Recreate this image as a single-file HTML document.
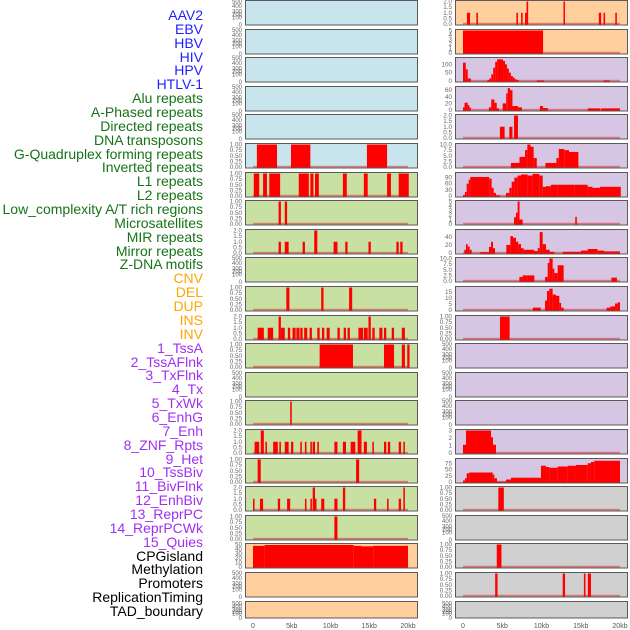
<!DOCTYPE html>
<html><head><meta charset="utf-8"><style>
html,body{margin:0;padding:0;background:#fff;width:630px;height:630px;overflow:hidden}
#labels{position:absolute;left:0;top:0;width:203px;height:630px}
.lb{position:absolute;right:0;font:14px "Liberation Sans",sans-serif;white-space:nowrap;line-height:14px}
svg{position:absolute;left:0;top:0}
</style></head><body>
<div id="labels"></div>
<svg id="chart" width="630" height="630"></svg>
<script>
const labelNames=["AAV2","EBV","HBV","HIV","HPV","HTLV-1","Alu repeats","A-Phased repeats","Directed repeats","DNA transposons","G-Quadruplex forming repeats","Inverted repeats","L1 repeats","L2 repeats","Low_complexity A/T rich regions","Microsatellites","MIR repeats","Mirror repeats","Z-DNA motifs","CNV","DEL","DUP","INS","INV","1_TssA","2_TssAFlnk","3_TxFlnk","4_Tx","5_TxWk","6_EnhG","7_Enh","8_ZNF_Rpts","9_Het","10_TssBiv","11_BivFlnk","12_EnhBiv","13_ReprPC","14_ReprPCWk","15_Quies","CPGisland","Methylation","Promoters","ReplicationTiming","TAD_boundary"];
const labelGroups=[6,13,5,15,5];
const groupColors=["#1f1fff","#177317","#ffa500","#a030f0","#000000"];
const xTicks=[0,5,10,15,20];
const xTickLabels=["0","5kb","10kb","15kb","20kb"];
// middle column data: [startKb,endKb,value]
const m5=[[0.5,3.1,1],[4.9,7.4,1],[14.7,17.3,1]];
const m6=[[0.1,0.8,1],[1.3,1.8,1],[2.1,3.5,1],[5.9,7.2,1],[7.4,7.8,1],[8.0,8.5,1],[11.6,12.1,1],[14.3,14.8,1],[17.3,17.8,1],[18.8,20.1,1]];
const m7=[[3.3,3.6,1],[4.1,4.4,1]];
const m8=[[3.3,3.6,1],[4.1,4.6,1],[6.4,6.7,1],[7.9,8.3,2],[10.4,10.9,1],[11.9,12.2,1],[14.9,15.2,1],[18.5,18.8,1],[19.0,19.3,1]];
const m10=[[4.3,4.7,1],[8.8,9.1,1],[12.4,12.8,1]];
const m11=[[0.6,1.4,1],[1.9,2.6,1],[3.3,3.6,2],[3.6,4.1,1],[4.5,4.8,1],[5.1,5.5,1],[5.6,6.0,1],[6.1,6.4,1],[6.6,7.0,1],[7.3,7.6,1],[8.3,8.6,1],[8.9,9.2,1],[9.5,9.9,1],[10.9,11.2,1],[11.7,12.0,1],[12.2,12.5,1],[13.6,14.2,1],[14.3,14.8,1],[14.9,15.2,2],[15.4,15.7,1],[16.3,16.7,1],[16.9,17.2,1],[17.9,18.2,1],[19.2,19.6,1]];
const m12=[[8.6,12.9,1],[16.9,18.2,1],[19.2,19.6,1],[19.9,20.2,1]];
const m14=[[4.8,5.0,1]];
const m15=[[0.2,0.8,1],[1.0,1.4,2],[1.6,1.8,1],[2.6,3.2,1],[3.4,3.6,1],[4.1,4.6,1],[4.9,5.2,1],[6.1,6.3,1],[6.7,6.9,1],[7.4,7.6,1],[7.7,8.0,1],[8.3,8.5,1],[10.5,10.9,1],[11.6,12.0,1],[12.6,13.2,1],[13.5,14.0,2],[14.3,14.7,1],[15.4,15.6,1],[16.9,17.2,1],[17.4,17.7,1],[18.8,19.1,1],[19.4,19.6,1]];
const m16=[[0.6,1.0,1],[13.3,13.7,1]];
const m17=[[0,0.2,1],[0.9,1.3,1],[3.2,3.5,1],[4.4,4.8,1],[6.7,6.9,1],[7.4,7.6,1],[7.7,8.0,2],[8.0,8.1,1],[8.8,9.2,1],[10.5,10.9,1],[11.6,11.9,2],[15.6,15.9,1],[17.3,17.5,1],[18.8,19.1,1],[19.4,19.6,2]];
const m18=[[10.5,10.9,1]];
const m19=[[0,1.5,47],[1.5,13,49],[13,14,47],[14,15.5,46],[15.5,20,47]];
// right column data
const r0=[[0.5,0.9,1],[1.7,1.9,1],[6.8,7.0,1],[7.4,7.6,1],[7.9,8.1,1],[8.1,8.3,2],[12.8,12.95,2],[17.3,17.6,1],[17.9,18.1,1],[19.4,19.6,1]];
const r1=[[0,10.2,5]];
const r2=[[0,0.35,110],[0.35,0.6,70],[0.6,1.0,15],[3.1,3.35,5],[3.35,3.6,15],[3.6,3.85,40],[3.85,4.1,80],[4.1,4.35,115],[4.35,5.1,130],[5.1,5.35,120],[5.35,5.6,100],[5.6,5.85,75],[5.85,6.1,50],[6.1,6.35,30],[6.35,6.6,20],[6.6,6.85,10],[6.85,7.1,5],[9.4,10.3,3],[17.9,18.7,3]];
const r3=[[0,0.2,8],[0.2,0.6,22],[0.6,0.8,15],[0.8,1.0,8],[3.3,3.6,8],[3.6,4.0,32],[4.0,4.3,22],[4.3,4.6,5],[5.05,5.5,20],[5.5,5.7,50],[5.7,6.0,66],[6.0,6.3,60],[6.3,7.0,12],[7.0,7.5,8],[9.8,10.2,12],[10.2,10.8,6],[15.9,16.7,5],[16.7,17.5,5],[17.6,20,5]];
const r4=[[4.7,5.3,1],[5.9,6.3,1],[6.5,7.0,2]];
const r5=[[6.1,7.2,1.8],[7.2,7.9,4.5],[7.9,8.2,7.5],[8.2,8.6,10],[8.6,9.0,9],[9.0,9.4,4],[10.5,11.9,1.8],[11.9,12.2,4],[12.2,12.9,8],[12.9,13.5,7.5],[13.5,14.7,6.7]];
const r6=[[0,0.25,5],[0.25,0.47,20],[0.47,0.72,60],[0.72,0.93,80],[0.93,3.35,93],[3.35,3.65,85],[3.65,3.91,40],[3.91,4.2,15],[4.2,4.71,3],[5.48,5.9,15],[5.9,6.2,40],[6.2,6.54,70],[6.54,6.96,90],[6.96,7.39,100],[7.39,8.24,105],[8.24,8.87,100],[8.87,9.72,108],[9.72,10.15,100],[10.15,10.57,45],[10.57,11.2,48],[11.2,12.06,55],[12.06,14.18,55],[14.18,15.88,55],[15.88,16.5,45],[16.5,17.45,40],[17.45,20.1,45]];
const r7=[[6.5,6.75,1.5],[6.75,6.96,2.5],[6.96,7.2,5],[7.2,7.6,1],[14.3,14.5,1.6]];
const r8=[[0.17,0.38,8],[0.38,0.59,22],[0.59,0.85,16],[0.85,1.1,8],[2.2,3.31,2],[3.31,3.57,15],[3.57,3.82,28],[3.82,4.08,12],[5.52,6.03,20],[6.03,6.37,42],[6.37,6.75,38],[6.75,7.05,28],[7.05,7.39,22],[7.39,7.73,12],[7.73,9.09,8],[9.09,9.51,5],[9.51,9.77,12],[9.77,10.15,52],[10.15,10.57,22],[10.57,11.04,8],[11.04,11.64,3],[12.7,15.03,3],[15.03,15.88,6],[15.88,17.15,10],[17.15,18.0,6],[18.0,20.0,4]];
const r9=[[7.18,7.6,1.8],[7.6,8.24,2.5],[8.24,9.09,2.5],[10.45,10.79,1.8],[10.79,11.0,8],[11.0,11.42,10],[11.42,11.64,5.5],[11.64,12.06,3.5],[12.06,12.82,7],[18.9,19.6,1.5]];
const r10=[[8.9,9.9,2],[10.45,10.7,8],[10.7,11.0,16],[11.0,11.42,18],[11.42,11.85,13],[11.85,12.27,12],[12.27,12.5,6],[12.5,12.82,2],[18.3,18.77,2],[18.77,19.37,3],[19.37,19.7,5.5],[19.7,20.0,6.5]];
const r11=[[4.71,5.94,1]];
const r15=[[0,0.38,1.1],[0.38,3.57,3],[3.57,3.82,2.1],[3.82,4.2,1.1]];
const r16=[[0,0.25,6],[0.25,0.47,15],[0.47,0.81,35],[0.81,3.78,38],[3.78,3.99,30],[3.99,4.33,15],[4.33,5.48,1],[5.48,6.11,10],[6.11,9.93,17],[9.93,10.57,65],[10.57,11.0,60],[11.0,12.06,57],[12.06,13.33,62],[13.33,14.39,65],[14.39,15.88,68],[15.88,16.3,75],[16.3,16.73,80],[16.73,20.0,85]];
const r17=[[4.5,5.2,1]];
const r19=[[4.3,4.9,1]];
const r20=[[4.1,4.4,1],[12.7,13.0,1],[15.4,15.6,1],[15.9,16.3,1]];
// tick sets
const T1=[0,0.25,0.5,0.75,1],T1L=["0.00","0.25","0.50","0.75","1.00"];
const T2=[0,0.5,1,1.5,2],T2L=["0.0","0.5","1.0","1.5","2.0"];
const T500=[0,100,200,300,400,500];
const C={blue:"#c8e4ec",green:"#c8e1a2",peach:"#ffd09e",purple:"#d6c6e3",grey:"#d0d0d0"};
const mid=[
 ["blue",null],["blue",null],["blue",null],["blue",null],["blue",null],
 ["blue",m5,1,T1,T1L],["green",m6,1,T1,T1L],["green",m7,1,T1,T1L],["green",m8,2,T2,T2L],["green",null],
 ["green",m10,1,T1,T1L],["green",m11,2,T2,T2L],["green",m12,1,T1,T1L],["green",null],["green",m14,1,T1,T1L],
 ["green",m15,2,T2,T2L],["green",m16,1,T1,T1L],["green",m17,2,T2,T2L],["green",m18,1,T1,T1L],
 ["peach",m19,50,[0,10,20,30,40,50],["0","10","20","30","40","50"]],["peach",null],["peach",null]];
const right=[
 ["peach",r0,2,T2,T2L],["peach",r1,5,[0,1,2,3,4,5],["0","1","2","3","4","5"]],
 ["purple",r2,135,[0,50,100],["0","50","100"]],["purple",r3,68,[0,20,40,60],["0","20","40","60"]],
 ["purple",r4,2,T2,T2L],["purple",r5,10,[0,2.5,5,7.5,10],["0.0","2.5","5.0","7.5","10.0"]],
 ["purple",r6,110,[0,30,60,90],["0","30","60","90"]],["purple",r7,5,[0,1,2,3,4,5],["0","1","2","3","4","5"]],
 ["purple",r8,56,[0,20,40],["0","20","40"]],["purple",r9,10,[0,2.5,5,7.5,10],["0.0","2.5","5.0","7.5","10.0"]],
 ["purple",r10,19,[0,5,10,15],["0","5","10","15"]],["purple",r11,1,T1,T1L],
 ["purple",null],["purple",null],["purple",null],
 ["purple",r15,3,[0,1,2,3],["0","1","2","3"]],["purple",r16,90,[0,25,50,75],["0","25","50","75"]],
 ["grey",r17,1,T1,T1L],["grey",null],["grey",r19,1,T1,T1L],["grey",r20,1,T1,T1L],["grey",null]];

// labels
(function(){
 const box=document.getElementById('labels');let k=0;
 labelGroups.forEach((n,g)=>{for(let i=0;i<n;i++){const d=document.createElement('div');
  
  
  d.className='lb';d.style.color=groupColors[g];d.style.top=(15+k*13.86-7)+'px';d.textContent=labelNames[k];box.appendChild(d);k++;}});
})();
const svg=document.getElementById('chart');const NS='http://www.w3.org/2000/svg';
function el(t,a){const e=document.createElementNS(NS,t);for(const k in a)e.setAttribute(k,a[k]);svg.appendChild(e);return e;}
const emptyFrac=[0,0.3,0.42,0.55,0.78,0.97];
function drawCol(cfg,L,scale,colName){
 const W=172;
 const xs=kb=>L+8+kb*scale;
 cfg.forEach((p,i)=>{
  const top=Math.round(i*28.6)+0.5;const h=i===21?16.5:24.5;const bot=top+h;
  const r=el('rect',{x:L+0.5,y:top,width:W,height:h,fill:C[p[0]],stroke:'#5a5a5a','stroke-width':1});
  
  
  const data=p[1];
  if(!data){
   T500.forEach((t,j)=>{const y=bot-emptyFrac[j]*h*(i===21?0.9:1)+2;
    const tx=el('text',{x:L-3,y:y,'font-size':6,fill:'#666','text-anchor':'end','font-family':'Liberation Sans, sans-serif'});tx.textContent=String(t);
    
    });
   return;
  }
  const ymax=p[2];const ys=v=>top+1+(1-v/ymax)*(h-2);
  p[3].forEach((t,j)=>{const tx=el('text',{x:L-3,y:ys(t)+2,'font-size':6.3,fill:'#666','text-anchor':'end','font-family':'Liberation Sans, sans-serif'});tx.textContent=p[4][j];
   
   });
  const base=el('rect',{x:xs(0),y:bot-2.2,width:xs(20)-xs(0),height:1.6,fill:'rgba(220,60,60,0.6)'});
  
  
  data.forEach(d=>{const x0=xs(d[0]),x1=xs(d[1]);const y=ys(d[2]);
   const b=el('rect',{x:x0,y:y,width:Math.max(1.5,x1-x0),height:bot-0.5-y,fill:'#ff0000'});
   
   });
 });
 xTicks.forEach((t,j)=>{const tx=el('text',{x:xs(t),y:628,'font-size':7,fill:'#555','text-anchor':'middle','font-family':'Liberation Sans, sans-serif'});tx.textContent=xTickLabels[j];
  
  });
}
drawCol(mid,245,7.75,'left');
drawCol(right,455,7.85,'right');
</script>
</body></html>
